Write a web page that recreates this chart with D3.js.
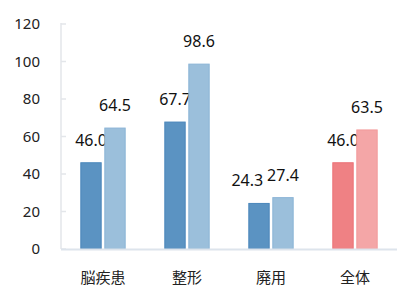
<!DOCTYPE html>
<html>
<head>
<meta charset="utf-8">
<script src="https://cdn.jsdelivr.net/npm/d3@7"></script>
<style>
    body { margin: 0; background: #fff; }
    svg { display: block; font-family: "Noto Sans CJK JP", "Noto Sans", sans-serif; }
    .axis-y text { font-family: "Noto Sans", sans-serif; font-size: 15px; fill: #222; }
    .cat-label { font-size: 15px; fill: #222; }
    .value-label { font-family: "Noto Sans", sans-serif; font-size: 16px; fill: #111; }
</style>
</head>
<body>
<div class="chart"></div>
<script>
var categories = ['脳疾患', '整形', '廃用', '全体'];
var seriesBefore = [46.0, 67.7, 24.3, 46.0];
var seriesAfter = [64.5, 98.6, 27.4, 63.5];
var yTicks = [0, 20, 40, 60, 80, 100, 120];

(function() {
    var options = {
        width: 420,
        height: 305,
        left: 61,
        right: 397,
        top: 24,
        bottom: 249,
        labelGap: 4
    };

    // blue for the three groups, red for the total
    var fills = {
        before: ['#5b93c2', '#5b93c2', '#5b93c2', '#ef8184'],
        after: ['#9bbfdb', '#9bbfdb', '#9bbfdb', '#f4a6a7']
    };
    var strokes = {
        before: ['#4a86bb', '#4a86bb', '#4a86bb', '#ec7176'],
        after: ['#8bb4d6', '#8bb4d6', '#8bb4d6', '#f29a9b']
    };

    var svg = d3.select('.chart')
        .append('svg')
        .attr('width', options.width)
        .attr('height', options.height);

    var x0 = d3.scaleBand()
        .domain(categories)
        .range([options.left, options.right])
        .paddingInner(0.46)
        .paddingOuter(0.23);

    var x1 = d3.scaleBand()
        .domain(['before', 'after'])
        .range([0, x0.bandwidth()])
        .paddingInner(0.11);

    var y = d3.scaleLinear()
        .domain([0, 120])
        .range([options.bottom, options.top]);

    // y axis: light line, short ticks pointing inward, labels on the left
    var axisY = svg.append('g').classed('axis-y', true);

    axisY.append('line')
        .attr('x1', options.left).attr('x2', options.left)
        .attr('y1', y(120) - 1).attr('y2', y(0))
        .attr('stroke', '#e3e6ea')
        .attr('stroke-width', 1.5);

    axisY.selectAll('.tick-line')
        .data(yTicks)
        .enter().append('line')
        .attr('x1', options.left).attr('x2', options.left + 5)
        .attr('y1', function(d) { return y(d); })
        .attr('y2', function(d) { return y(d); })
        .attr('stroke', '#e3e6ea')
        .attr('stroke-width', 1.5);

    axisY.selectAll('text')
        .data(yTicks)
        .enter().append('text')
        .attr('x', 40)
        .attr('y', function(d) { return y(d); })
        .attr('dy', '0.35em')
        .attr('text-anchor', 'end')
        .text(function(d) { return d; });

    var rows = categories.map(function(c, i) {
        return { cat: c, index: i, before: seriesBefore[i], after: seriesAfter[i] };
    });

    var groups = svg.selectAll('.group')
        .data(rows)
        .enter().append('g')
        .classed('group', true)
        .attr('transform', function(d) { return 'translate(' + x0(d.cat) + ', 0)'; });

    ['before', 'after'].forEach(function(key) {
        groups.append('rect')
            .attr('x', x1(key) + 0.5)
            .attr('y', function(d) { return y(d[key]); })
            .attr('width', x1.bandwidth() - 1)
            .attr('height', function(d) { return y(0) - y(d[key]); })
            .attr('fill', function(d) { return fills[key][d.index]; })
            .attr('stroke', function(d) { return strokes[key][d.index]; })
            .attr('stroke-width', 1);

        groups.append('text')
            .classed('value-label', true)
            .classed('value-label_' + key, true)
            .attr('x', x1(key) + x1.bandwidth() / 2)
            .attr('y', function(d) { return y(d[key]) - 17; })
            .attr('text-anchor', 'middle')
            .text(function(d) { return d[key].toFixed(1); });
    });

    // nudge the left label away when the two labels of a group collide
    groups.each(function() {
        var g = d3.select(this);
        var left = g.select('.value-label_before');
        var right = g.select('.value-label_after');
        var a = left.node().getBBox();
        var b = right.node().getBBox();
        var overlapY = a.y < b.y + b.height && b.y < a.y + a.height;
        var overlapX = a.x + a.width + options.labelGap - b.x;
        if (overlapY && overlapX > 0) {
            left.attr('x', +left.attr('x') - overlapX);
        }
    });

    // baseline
    svg.append('line')
        .attr('x1', options.left).attr('x2', options.right)
        .attr('y1', y(0) + 0.5).attr('y2', y(0) + 0.5)
        .attr('stroke', '#dde4ec')
        .attr('stroke-width', 2);

    svg.selectAll('.cat-label')
        .data(categories)
        .enter().append('text')
        .classed('cat-label', true)
        .attr('x', function(d) { return x0(d) + x0.bandwidth() / 2; })
        .attr('y', 283)
        .attr('text-anchor', 'middle')
        .text(function(d) { return d; });
})();
</script>
</body>
</html>
